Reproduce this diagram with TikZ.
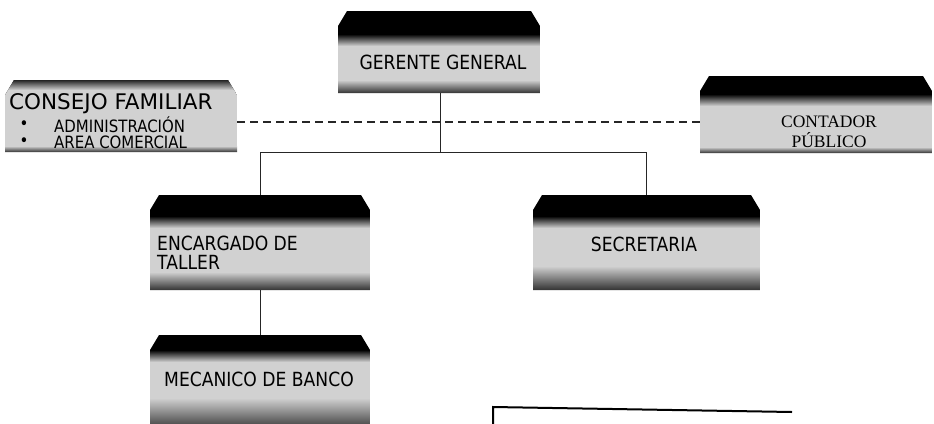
\documentclass[tikz,border=0pt]{standalone}
\usepackage{fontspec}
\setmainfont{DejaVu Sans}
\newfontfamily\nar[FakeStretch=0.88]{DejaVu Sans}
\newfontfamily\serifo{Liberation Serif}
\usetikzlibrary{fit}
\definecolor{bandc}{gray}{0.82}
\tikzset{
  lbl/.style={inner sep=0pt, text=black, font=\nar\fontsize{19.5}{21}\selectfont},
  sublbl/.style={inner sep=0pt, text=black, font=\nar\fontsize{17}{19}\selectfont},
  conn/.style={line width=1pt, draw=black!85},
  dashconn/.style={line width=1.3pt, draw=black!85, dash pattern=on 8pt off 5pt},
  boxfit/.style={inner sep=0pt, draw=none},
}
% #1 name, #2 x1, #3 y1, #4 x2, #5 y2, #6 band top, #7 band bottom
\newcommand\orgbox[7]{%
  \begin{scope}
    \clip (#2,#5) -- (#2,#3+15) -- (#2+9,#3) -- (#4-9,#3) -- (#4,#3+15) -- (#4,#5) -- cycle;
    \fill[black] (#2,#3) rectangle (#4,#5);
    \shade[top color=black, bottom color=bandc] (#2,#6-12) rectangle (#4,#6);
    \fill[bandc] (#2,#6) rectangle (#4,#7);
    \shade[top color=bandc, bottom color=black!80] (#2,#7) rectangle (#4,#5);
  \end{scope}
  \node[boxfit, fit={(#2,#3)(#4,#5)}] (#1) {};
}
\begin{document}
\begin{tikzpicture}[x=1pt,y=-1pt]
\useasboundingbox (0,0) rectangle (934,423);
\fill[white] (0,0) rectangle (934,423);

% boxes
\orgbox{ger}{338}{11}{540}{93}{46}{80}
\orgbox{con}{5}{80}{237}{152}{90}{146}
\orgbox{cont}{700}{76}{932}{153}{106}{147}
\orgbox{enc}{150}{195}{370}{290}{228}{272}
\orgbox{sec}{533}{195}{760}{290}{228}{266}
\orgbox{mec}{150}{335}{370}{430}{362}{398}

% texts
\node[lbl] (gert) at (443,62) {GERENTE GENERAL};
\node[lbl, anchor=west, font=\fontsize{21.5}{23}\selectfont] (cont1) at (9,104) {CONSEJO FAMILIAR};
\node[sublbl] (bul1) at (24,125) {•};
\node[sublbl, anchor=west] (adm) at (54,125) {ADMINISTRACIÓN};
\node[sublbl] (bul2) at (24,142) {•};
\node[sublbl, anchor=west] (are) at (54,142) {AREA COMERCIAL};
\node[lbl, font=\serifo\fontsize{17.5}{19}\selectfont] (ctd1) at (829,122) {CONTADOR};
\node[lbl, font=\serifo\fontsize{17.5}{19}\selectfont] (ctd2) at (829,140) {PÚBLICO};
\node[lbl, anchor=west] (enc1) at (157,243) {ENCARGADO DE};
\node[lbl, anchor=west] (enc2) at (157,262) {TALLER};
\node[lbl] (sect) at (644,244) {SECRETARIA};
\node[lbl] (mect) at (259,379) {MECANICO DE BANCO};

% connectors
\coordinate (dy) at (0,122);
\draw[dashconn] (con.east |- dy) -- (cont.west |- dy);
\coordinate (hl) at (440,152);
\draw[conn] (ger.south -| hl) -- (hl);
\draw[conn] (enc.north) -- (enc.north |- hl) -- (sec.north |- hl) -- (sec.north);
\draw[conn] (enc.south) -- (mec.north);

% partial bottom box
\coordinate (pb1) at (493,424);
\coordinate (pb2) at (493,407);
\coordinate (pb3) at (792,412);
\draw[line width=2pt, black] (pb1) -- (pb2) -- (pb3);
\end{tikzpicture}
\end{document}
